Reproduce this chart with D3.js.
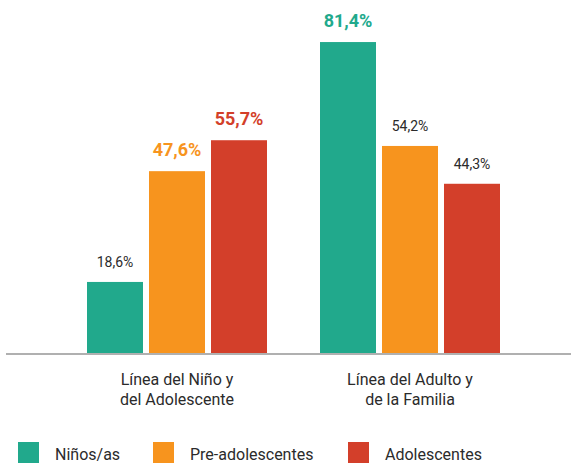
<!DOCTYPE html>
<meta charset="utf-8">
<style>
body { margin: 0; background: #fff; }
text { font-family: Roboto, "Noto Sans", sans-serif; }
</style>
<body>
<script src="https://d3js.org/d3.v7.min.js"></script>
<script>

// data
var groups = ["Línea del Niño y\ndel Adolescente", "Línea del Adulto y\nde la Familia"];
var series = ["Niños/as", "Pre-adolescentes", "Adolescentes"];
var colors = ["#21a98c", "#f7941e", "#d33f2a"];
var valuesNino   = [18.6, 47.6, 55.7];
var valuesAdulto = [81.4, 54.2, 44.3];
// labels that are printed bold and coloured
var highlight = [[false, true, true], [true, false, false]];

var values = [valuesNino, valuesAdulto];

var width = 571, height = 463;

var svg = d3.select("body").append("svg")
    .attr("width", width)
    .attr("height", height);

// scales
var x0 = d3.scaleBand().domain(groups).range([87, 500]).paddingInner(53 / 233);
var x1 = d3.scaleBand().domain(series).range([0, x0.bandwidth()]).paddingInner(6 / 62);
var y = d3.scaleLinear().domain([0, 100]).range([353, -29]);

var fmt = function(v) { return d3.format(".1f")(v).replace(".", ",") + "%"; };

// bars
var g = svg.selectAll(".group")
    .data(groups)
  .enter().append("g")
    .attr("transform", function(d) { return "translate(" + x0(d) + ",0)"; });

g.selectAll("rect")
    .data(function(d, i) { return values[i].map(function(v, j) { return {v: v, j: j, i: i}; }); })
  .enter().append("rect")
    .attr("x", function(d) { return x1(series[d.j]); })
    .attr("y", function(d) { return y(d.v); })
    .attr("width", x1.bandwidth())
    .attr("height", function(d) { return y(0) - y(d.v); })
    .attr("fill", function(d) { return colors[d.j]; });

// value labels
g.selectAll(".val")
    .data(function(d, i) { return values[i].map(function(v, j) { return {v: v, j: j, i: i}; }); })
  .enter().append("text")
    .attr("x", function(d) { return x1(series[d.j]) + x1.bandwidth() / 2; })
    .attr("y", function(d) { return y(d.v) - 15; })
    .attr("text-anchor", "middle")
    .attr("font-size", function(d) { return highlight[d.i][d.j] ? 18 : 14; })
    .attr("font-weight", function(d) { return highlight[d.i][d.j] ? 700 : 400; })
    .attr("fill", function(d) { return highlight[d.i][d.j] ? colors[d.j] : "#2b2b2b"; })
    .text(function(d) { return fmt(d.v); });

// baseline
svg.append("line")
    .attr("x1", 6).attr("x2", width)
    .attr("y1", y(0) + 1).attr("y2", y(0) + 1)
    .attr("stroke", "#b0b0b0")
    .attr("stroke-width", 2);

// category labels
svg.selectAll(".cat")
    .data(groups)
  .enter().append("text")
    .attr("x", function(d) { return x0(d) + x0.bandwidth() / 2; })
    .attr("y", 385)
    .attr("text-anchor", "middle")
    .attr("font-size", 16)
    .attr("fill", "#2b2b2b")
    .selectAll("tspan")
    .data(function(d) { return d.split("\n"); })
  .enter().append("tspan")
    .attr("x", function() { var p = this.parentNode.__data__; return x0(p) + x0.bandwidth() / 2; })
    .attr("dy", function(d, i) { return i ? 20 : 0; })
    .text(function(d) { return d; });

// legend
var legendX = [18, 153, 348];
var leg = svg.selectAll(".leg")
    .data(series)
  .enter().append("g")
    .attr("transform", function(d, i) { return "translate(" + legendX[i] + ",442)"; });

leg.append("rect")
    .attr("width", 21)
    .attr("height", 21)
    .attr("fill", function(d, i) { return colors[i]; });

leg.append("text")
    .attr("x", 37)
    .attr("y", 18)
    .attr("font-size", 16)
    .attr("fill", "#2b2b2b")
    .text(function(d) { return d; });

</script>
</body>
